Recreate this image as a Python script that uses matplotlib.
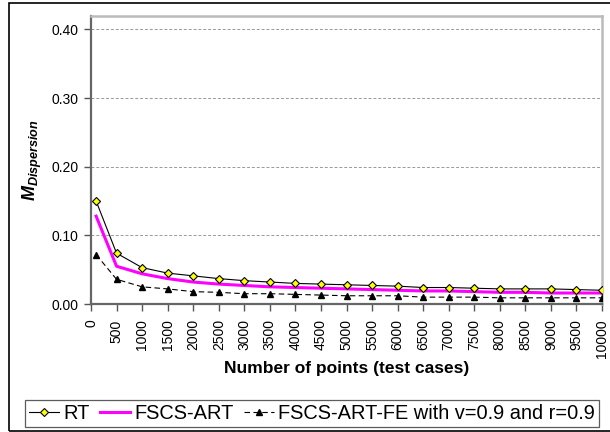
import matplotlib
matplotlib.use('Agg')
import matplotlib.pyplot as plt
from matplotlib.patches import Rectangle

plt.rcParams['font.family'] = ['Liberation Sans', 'DejaVu Sans']
plt.rcParams['mathtext.fontset'] = 'custom'
plt.rcParams['mathtext.bfit'] = 'Liberation Sans:bold:italic'

# data
points = [100, 500, 1000, 1500, 2000, 2500, 3000, 3500, 4000, 4500, 5000,
          5500, 6000, 6500, 7000, 7500, 8000, 8500, 9000, 9500, 10000]
rt = [0.150, 0.074, 0.053, 0.045, 0.041, 0.037, 0.034, 0.032, 0.030, 0.029, 0.028,
      0.027, 0.026, 0.024, 0.024, 0.023, 0.022, 0.022, 0.022, 0.021, 0.020]
fscs = [0.128, 0.055, 0.044, 0.037, 0.032, 0.029, 0.027, 0.025, 0.024, 0.023, 0.022,
        0.021, 0.020, 0.019, 0.019, 0.018, 0.017, 0.017, 0.016, 0.016, 0.016]
fscs_fe = [0.072, 0.036, 0.025, 0.022, 0.018, 0.017, 0.015, 0.015, 0.014, 0.013, 0.012,
           0.012, 0.012, 0.010, 0.010, 0.010, 0.009, 0.009, 0.009, 0.009, 0.009]
xticks = list(range(0, 10001, 500))
yticks = [0.0, 0.1, 0.2, 0.3, 0.4]

fig = plt.figure(figsize=(6.1, 4.32), dpi=100)
ax = fig.add_axes([91 / 610, 1 - 304 / 432, 511 / 610, 288.3 / 432])

ax.plot(points, rt, color='black', lw=0.8, marker='D', ms=4.5,
        mfc='#ffff00', mec='black', mew=0.8, label='RT', zorder=4)
ax.plot(points, fscs, color='#ff00ff', lw=2.2, label='FSCS-ART', zorder=3)
ax.plot(points, fscs_fe, color='black', lw=0.8, ls=(0, (5, 3)), marker='^', ms=5,
        mfc='black', mec='black', label='FSCS-ART-FE with v=0.9 and r=0.9', zorder=4)

ax.set_xlim(0, 10000)
ax.set_ylim(0, 0.42)
ax.set_xticks(xticks)
ax.set_xticklabels([str(v) for v in xticks], rotation=90, fontsize=10)
ax.set_yticks(yticks)
ax.set_yticklabels(['%.2f' % v for v in yticks], fontsize=10)
ax.tick_params(axis='x', direction='out', length=5, width=1, color='#555555', pad=6)
ax.tick_params(axis='y', direction='out', length=5, width=1, color='#555555', pad=4)
ax.yaxis.grid(True, ls=(0, (3, 2)), color='#999999', lw=0.7)
ax.set_axisbelow(True)

for s in ['top', 'right']:
    ax.spines[s].set_color('#bbbbbb')
    ax.spines[s].set_linewidth(1.8)
for s in ['left', 'bottom']:
    ax.spines[s].set_color('#666666')
    ax.spines[s].set_linewidth(1.6)

ax.set_xlabel('Number of points (test cases)', fontsize=12.5, fontweight='bold', labelpad=2)
ax.set_ylabel(r'$\mathbfit{M}_{\mathbfit{Dispersion}}$', fontsize=13, labelpad=5)

leg = fig.legend(loc='upper left', bbox_to_anchor=(25 / 610, 1 - 400 / 432),
                 ncol=3, fontsize=14.4, frameon=True, fancybox=False,
                 edgecolor='#333333', handlelength=1.5, handletextpad=0.24,
                 columnspacing=0.48, borderpad=0.2, borderaxespad=0)
leg.get_frame().set_linewidth(0.9)

fig.patches.append(Rectangle((9 / 610, 1 / 432), 620 / 610, 428 / 432,
                             transform=fig.transFigure, fill=False,
                             edgecolor='black', lw=1.2))

fig.savefig('out.png', dpi=100)
